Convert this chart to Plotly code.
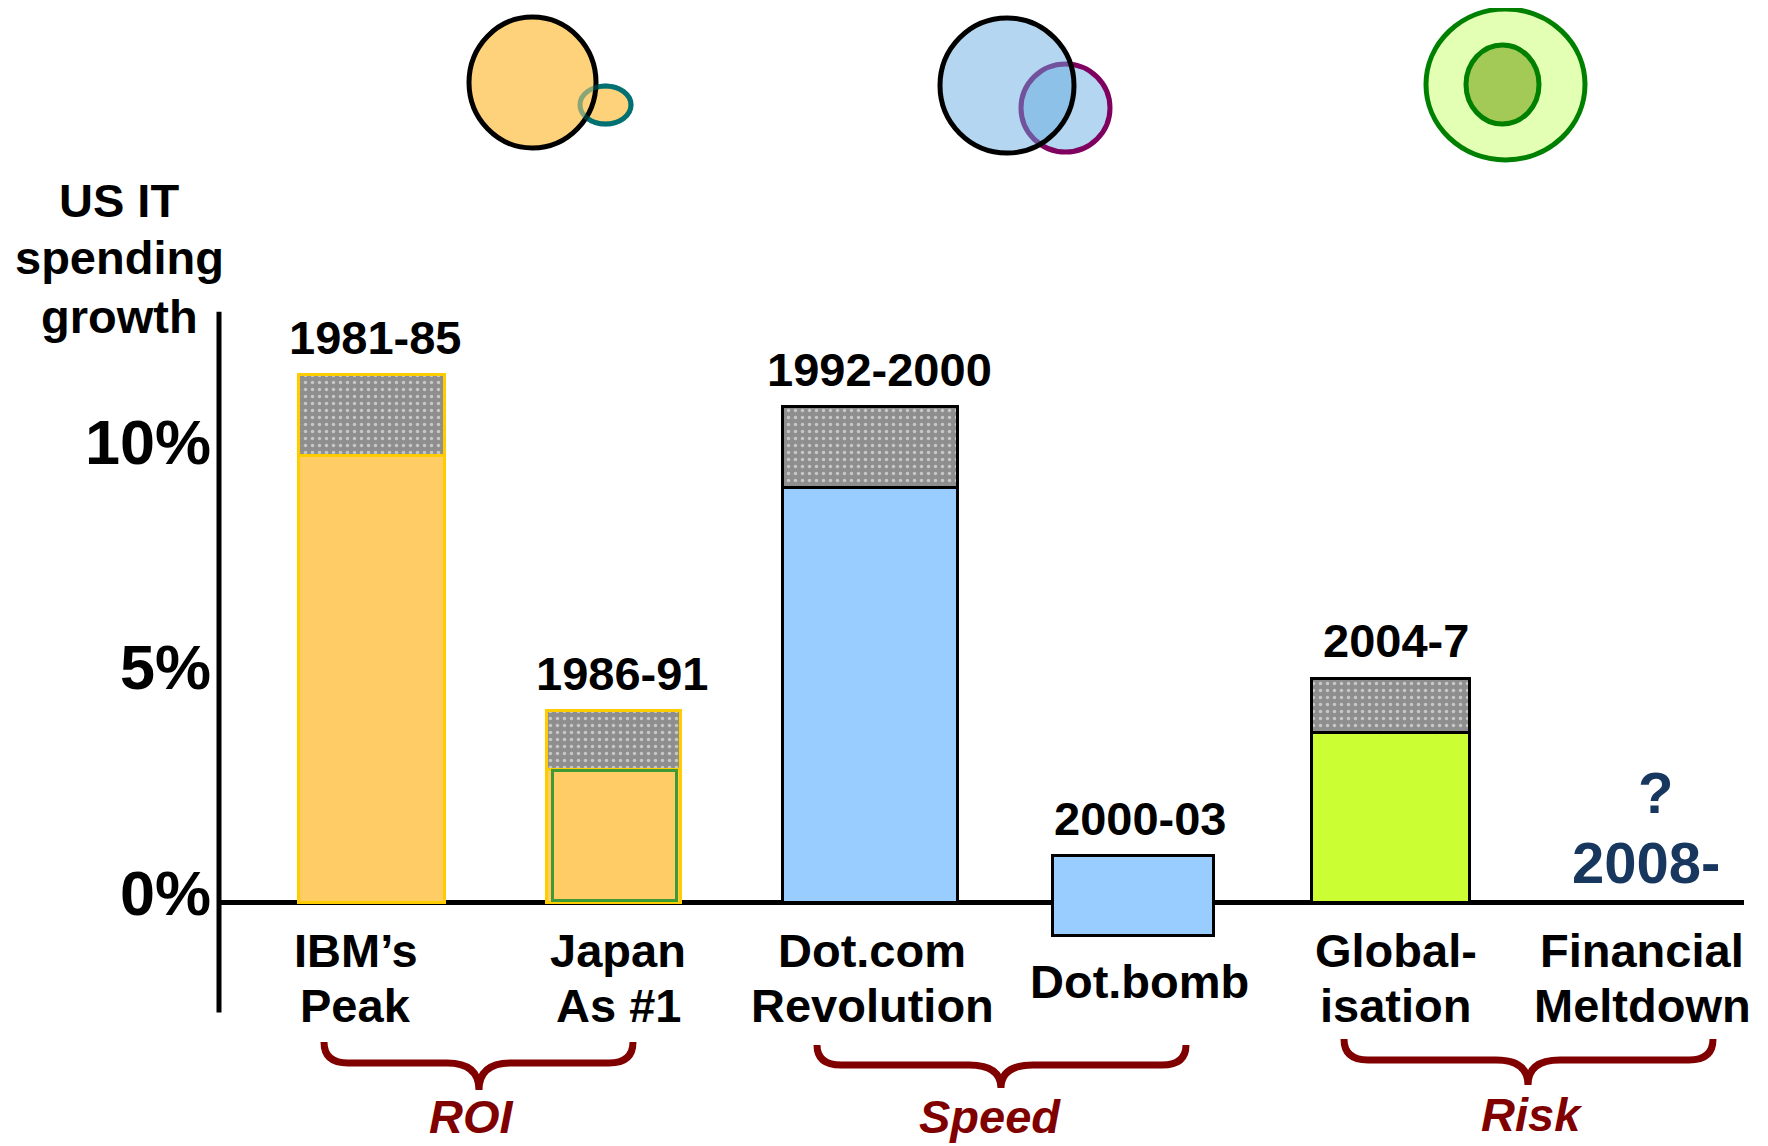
import plotly.graph_objects as go

# ---------------- data ----------------
categories = ["IBM’s Peak", "Japan As #1", "Dot.com Revolution", "Dot.bomb",
              "Global-isation", "Financial Meltdown"]
category_lines = [["IBM’s", "Peak"], ["Japan", "As #1"], ["Dot.com", "Revolution"],
                  ["Dot.bomb"], ["Global-", "isation"], ["Financial", "Meltdown"]]
periods = ["1981-85", "1986-91", "1992-2000", "2000-03", "2004-7"]
future_period = "2008-"
future_mark = "?"
bar_low = [0.0, 0.0, 0.0, -0.75, 0.0]        # % growth, bottom of bar
core_top = [9.9, 2.93, 9.2, 1.03, 3.75]      # % growth, solid part top
peak_top = [11.69, 4.24, 10.98, 1.03, 4.96]  # % growth, peak (dotted cap)
y_ticks = [0, 5, 10]
y_tick_labels = ["0%", "5%", "10%"]
themes = ["ROI", "Speed", "Risk"]
y_title_lines = ["US IT", "spending", "growth"]

# ---------------- layout helpers ----------------
PAGE_OFF = 8                      # default body margin of the html page
W, H = 1768 - PAGE_OFF, 1146 - PAGE_OFF
FONT = "Liberation Sans, Arial, sans-serif"
px_x = lambda p: (p - PAGE_OFF) / W
px_y = lambda p: 1 - (p - PAGE_OFF) / H

n_bars = len(periods)
xcat = categories[:n_bars]
core_fill = ["#FFCC66", "#FFCC66", "#99CCFF", "#99CCFF", "#CCFF33"]
edge = ["#FFCC00", "#FFCC00", "#000000", "#000000", "#000000"]
widths = [0.571, 0.522, 0.688, 0.630, 0.619]
offsets = [-0.257, -0.286, -0.366, -0.309, -0.296]

fig = go.Figure()

# dotted "peak" caps (full height, covered below by the solid part)
fig.add_trace(go.Bar(
    x=xcat, y=[t - l for t, l in zip(peak_top, bar_low)], base=bar_low,
    width=widths, offset=offsets,
    marker=dict(color="#8E8E8E", line=dict(color=edge, width=3),
                pattern=dict(shape=".", fgcolor="#FFFFFF", size=7, solidity=0.2)),
    hoverinfo="skip", showlegend=False))

# solid core part
fig.add_trace(go.Bar(
    x=xcat, y=[t - l for t, l in zip(core_top, bar_low)], base=bar_low,
    width=widths, offset=offsets,
    marker=dict(color=core_fill, line=dict(color=edge, width=3)),
    hoverinfo="skip", showlegend=False))

# inner green outline of the Japan bar
fig.add_trace(go.Bar(
    x=[xcat[1]], y=[core_top[1] - 0.04], base=[bar_low[1] + 0.03],
    width=[0.485], offset=[-0.264],
    marker=dict(color="rgba(0,0,0,0)", line=dict(color="#3E9A35", width=3)),
    hoverinfo="skip", showlegend=False))

# axis scaling (page pixels: category i centre at 364.7 + 255.7*i, 0% at 902.5, 45.1 px per %)
x0_page, x_step = 364.7, 255.7
zero_page, y_step = 902.5, 45.1
xr0 = -(x0_page - PAGE_OFF) / x_step
yr1 = (zero_page - PAGE_OFF) / y_step
yr0 = -(H - (zero_page - PAGE_OFF)) / y_step

fig.update_layout(
    width=W, height=H, margin=dict(l=0, r=0, t=0, b=0),
    paper_bgcolor="white", plot_bgcolor="white",
    barmode="overlay", bargap=0, showlegend=False,
    font=dict(family=FONT, color="black"),
    xaxis=dict(type="category", categoryorder="array", categoryarray=categories,
               range=[xr0, xr0 + W / x_step], domain=[0, 1], showgrid=False,
               zeroline=False, showline=False, showticklabels=False, ticks=""),
    yaxis=dict(range=[yr0, yr1], domain=[0, 1], anchor="free",
               position=px_x(219), showgrid=False, zeroline=False, showline=False,
               tickvals=y_ticks, ticktext=y_tick_labels, ticks="",
               tickfont=dict(family=FONT, size=63, weight="bold", color="black"),
               ticklabelstandoff=8, ticklabelshift=-10),
)

shapes = []
# axis lines
shapes.append(dict(type="line", xref="paper", yref="y", x0=px_x(219), x1=px_x(1744),
                   y0=0, y1=0, line=dict(color="black", width=5), layer="below"))
shapes.append(dict(type="line", xref="paper", yref="y", x0=px_x(219), x1=px_x(219),
                   y0=-2.44, y1=13.1, line=dict(color="black", width=5), layer="below"))


def circ(x0, y0, x1, y1, fill, line, lw=5):
    return dict(type="circle", xref="paper", yref="paper",
                x0=px_x(x0), x1=px_x(x1), y0=px_y(y1), y1=px_y(y0),
                fillcolor=fill, line=dict(color=line, width=lw), layer="above")


# ROI icon
shapes.append(circ(580, 86, 631, 124, "#FED27A", "#007070"))
shapes.append(circ(469, 17, 596, 148, "#FED27A", "#000000"))
shapes.append(circ(580, 86, 631, 124, "rgba(0,0,0,0)", "rgba(0,112,112,0.45)"))
# Speed icon
shapes.append(circ(1021, 64, 1110, 152, "#B4D6F0", "#800060"))
shapes.append(circ(940, 18, 1074, 153, "rgba(99,170,224,0.48)", "#000000"))
# Risk icon
shapes.append(circ(1426, 9, 1585, 160, "#E2FFB4", "#008000"))
shapes.append(circ(1466, 45, 1539, 124, "#A3C957", "#008000"))


def brace(x0, x1, ytop, ymid, xt, ybot, r=24, rt=32):
    X = lambda p: f"{px_x(p):.5f}"
    Y = lambda p: f"{px_y(p):.5f}"
    path = (f"M {X(x0)},{Y(ytop)} Q {X(x0)},{Y(ymid)} {X(x0 + r)},{Y(ymid)} "
            f"L {X(xt - rt)},{Y(ymid)} Q {X(xt)},{Y(ymid)} {X(xt)},{Y(ybot)} "
            f"Q {X(xt)},{Y(ymid)} {X(xt + rt)},{Y(ymid)} "
            f"L {X(x1 - r)},{Y(ymid)} Q {X(x1)},{Y(ymid)} {X(x1)},{Y(ytop)}")
    return dict(type="path", xref="paper", yref="paper", path=path,
                line=dict(color="#800000", width=7), layer="above")


shapes.append(brace(324, 633, 1042, 1063, 479, 1090))
shapes.append(brace(817, 1186, 1045, 1065, 1001, 1088))
shapes.append(brace(1344, 1713, 1039, 1060, 1528, 1085))
fig.update_layout(shapes=shapes)

ann = []
bold47 = dict(family=FONT, size=47, weight="bold", color="black")
# period labels above bars
period_xshift = [11, 2, 3, 9, 8]
for c, p, t, dx in zip(xcat, periods, peak_top, period_xshift):
    ann.append(dict(x=c, y=t, xref="x", yref="y", text=p, showarrow=False,
                    xanchor="center", yanchor="middle", yshift=38, xshift=dx,
                    font=bold47))
# category labels below
cat_xshift = [-9, -2, -4, 8, 8, -1]
for c, lines, dx in zip(categories, category_lines, cat_xshift):
    ys = [981] if len(lines) == 1 else [950, 1005]
    for ln, yy in zip(lines, ys):
        ann.append(dict(x=c, y=px_y(yy), xref="x", yref="paper", text=ln,
                        showarrow=False, xanchor="center", yanchor="middle", xshift=dx,
                        font=bold47))
# future period
ann.append(dict(x=categories[-1], y=px_y(792), xref="x", yref="paper", text=future_mark,
                showarrow=False, xanchor="center", yanchor="middle", xshift=12,
                font=dict(family=FONT, size=58, weight="bold", color="#17375E")))
ann.append(dict(x=categories[-1], y=px_y(862), xref="x", yref="paper", text=future_period,
                showarrow=False, xanchor="center", yanchor="middle", xshift=3,
                font=dict(family=FONT, size=58, weight="bold", color="#17375E")))
# y title
for line, yy in zip(y_title_lines, [200, 258, 316]):
    ann.append(dict(x=px_x(119), y=px_y(yy), xref="paper", yref="paper", text=line,
                    showarrow=False, xanchor="center", yanchor="middle", font=bold47))
# theme labels
for th, (tx, ty) in zip(themes, [(471, 1116), (990, 1116), (1532, 1114)]):
    ann.append(dict(x=px_x(tx), y=px_y(ty), xref="paper", yref="paper", text=th,
                    showarrow=False, xanchor="center", yanchor="middle",
                    font=dict(family=FONT, size=47, weight="bold", style="italic",
                              color="#800000")))
fig.update_layout(annotations=ann)

fig.write_html("out.html")
